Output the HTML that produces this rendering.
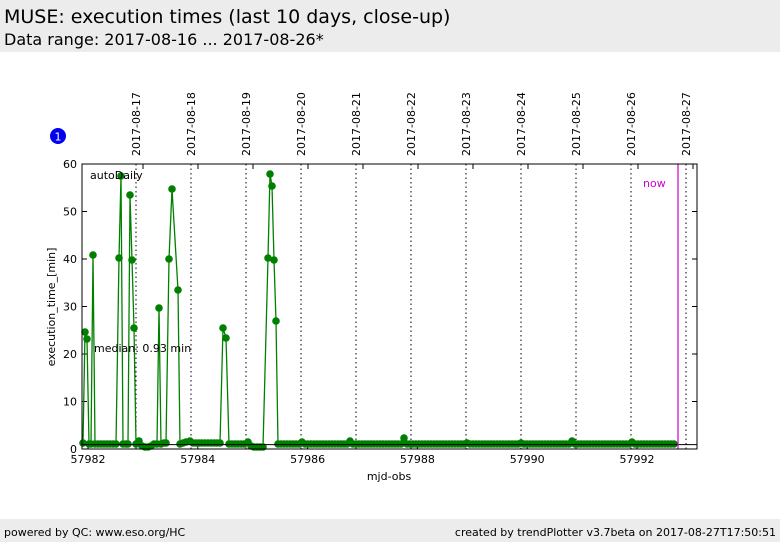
<!DOCTYPE html>
<html><head><meta charset="utf-8"><style>
body{margin:0;width:782px;height:542px;background:#fff;font-family:"DejaVu Sans","Liberation Sans",sans-serif;overflow:hidden;position:relative}
.hdr{position:absolute;left:0;top:0;width:780px;height:52px;background:#ececec}
.t1{position:absolute;left:4px;top:6px;font-size:19px;color:#000}
.t2{position:absolute;left:4px;top:30px;font-size:16px;color:#000}
.ftr{position:absolute;left:0;top:519px;width:780px;height:23px;background:#ececec;font-size:11px}
</style></head><body>
<div class="hdr"><div class="t1">MUSE: execution times (last 10 days, close-up)</div><div class="t2">Data range: 2017-08-16 ... 2017-08-26*</div></div>
<svg id="s" width="782" height="542" style="position:absolute;left:0;top:0" font-family="DejaVu Sans, Liberation Sans, sans-serif">
<circle cx="58" cy="136" r="8" fill="#0000ee"/><text x="58" y="140.5" font-size="11" fill="#fff" text-anchor="middle">1</text>
<g id="g"></g>
</svg>
<div class="ftr"><span style="position:absolute;left:4px;top:7px">powered by QC: www.eso.org/HC</span><span style="position:absolute;right:4px;top:7px">created by trendPlotter v3.7beta on 2017-08-27T17:50:51</span></div>
<script>
var g=document.getElementById('g'),h='';
var L=82,R=697,T=164,B=449;
var dl=[136,191,246,301,356,411,466,521,576,631,686],dn=['17','18','19','20','21','22','23','24','25','26','27'];
dl.forEach(function(x,i){h+='<line x1="'+x+'" y1="'+T+'" x2="'+x+'" y2="'+B+'" stroke="#000" stroke-dasharray="1.5,3"/>';
h+='<text transform="translate('+(x+4)+',156) rotate(-90)" font-size="11" fill="#000">2017-08-'+dn[i]+'</text>';
h+='<line x1="'+(x+7)+'" y1="'+T+'" x2="'+(x+7)+'" y2="'+(T+5)+'" stroke="#000"/>';});
for(var v=0;v<=60;v+=10){var y=B-v*4.75;h+='<text x="77" y="'+(y+4)+'" font-size="11" text-anchor="end">'+v+'</text><line x1="'+L+'" y1="'+y+'" x2="'+(L+5)+'" y2="'+y+'" stroke="#000"/><line x1="'+R+'" y1="'+y+'" x2="'+(R-5)+'" y2="'+y+'" stroke="#000"/>';}
[57982,57984,57986,57988,57990,57992].forEach(function(d,i){var x=88+i*109.8;h+='<text x="'+x+'" y="463" font-size="11" text-anchor="middle">'+d+'</text><line x1="'+x+'" y1="'+B+'" x2="'+x+'" y2="'+(B-5)+'" stroke="#000"/>';});
var sp=[[83,443],[85,332],[87,339],[89,444],[91,444],[93,255],[95,444]];
for(var x=98;x<=117;x+=3)sp.push([x,444]);
sp=sp.concat([[119,258],[121,176],[123,444],[126,444],[128,444],[130,195],[132,260],[134,328],[136,444],[139,441],[142,446],[145,447],[148,447],[151,446],[154,444],[157,444],[159,308],[161,444],[164,443],[166,443],[169,259],[172,189],[178,290],[180,444],[183,443],[186,442],[190,441],[193,443]]);
for(x=196;x<=220;x+=3)sp.push([x,443]);
sp=sp.concat([[223,328],[226,338],[229,444]]);
for(x=232;x<=246;x+=3)sp.push([x,444]);
sp=sp.concat([[248,442],[251,446],[254,447],[257,447],[260,447],[263,447],[268,258],[270,174],[272,186],[274,260],[276,321],[278,444]]);
for(x=281;x<=676;x+=3){var y=444;if(Math.abs(x-350)<2)y=441;if(Math.abs(x-405)<2)y=438;if(Math.abs(x-302)<2)y=442;if(Math.abs(x-571)<2)y=441;if(Math.abs(x-632)<2)y=442;if(Math.abs(x-467)<2)y=443;if(Math.abs(x-522)<2)y=443;sp.push([x,y]);}
h+='<polyline fill="none" stroke="#008000" stroke-width="1.3" points="'+sp.map(function(p){return p.join(',')}).join(' ')+'"/>';
sp.forEach(function(p){h+='<circle cx="'+p[0]+'" cy="'+p[1]+'" r="3.8" fill="#008000"/>';});
h+='<line x1="'+L+'" y1="444.6" x2="'+R+'" y2="444.6" stroke="#000"/>';
h+='<line x1="678" y1="'+T+'" x2="678" y2="'+B+'" stroke="#cc00cc" stroke-width="1.2"/>';
h+='<text x="643" y="187" font-size="11" fill="#cc00cc">now</text>';
h+='<text x="90" y="179" font-size="11">autoDaily</text><text x="94" y="352" font-size="11">median: 0.93 min</text>';
h+='<rect x="'+L+'" y="'+T+'" width="'+(R-L)+'" height="'+(B-T)+'" fill="none" stroke="#000"/>';
h+='<text x="389" y="480" font-size="11" text-anchor="middle">mjd-obs</text>';
h+='<text transform="translate(55,307) rotate(-90)" font-size="11" text-anchor="middle">execution_time_[min]</text>';
g.innerHTML=h;
</script>
</body></html>
